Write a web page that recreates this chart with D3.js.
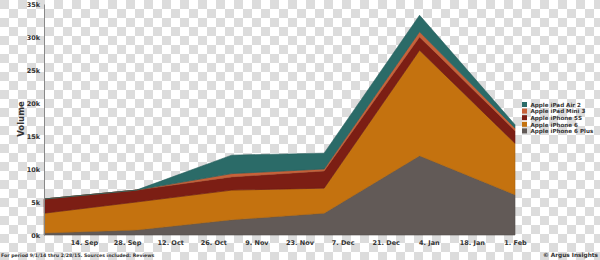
<!DOCTYPE html>
<html><head><meta charset="utf-8">
<script src="https://cdn.jsdelivr.net/npm/d3@7"></script>
<style>body{margin:0;background:#fff}svg{display:block}text{font-family:"DejaVu Sans",sans-serif;font-weight:bold;fill:#333}</style>
</head><body><svg id="c" width="600" height="260"></svg>
<script>
const dates = ["2014-09-01","2014-10-01","2014-11-01","2014-12-01","2015-01-01","2015-02-01"];
const seriesNames = ["Apple iPhone 6 Plus","Apple iPhone 6","Apple iPhone 5S","Apple iPad Mini 3","Apple iPad Air 2"];
const iphone6Plus = [300, 750, 2300, 3300, 12000, 6100];
const iphone6 = [3000, 4250, 4500, 3800, 16000, 7800];
const iphone5S = [2150, 1800, 2000, 2600, 2000, 1900];
const ipadMini3 = [0, 0, 500, 300, 800, 400];
const ipadAir2 = [0, 0, 2800, 2400, 2500, 500];
const colors = ["#625a57","#c4720f","#7c1e14","#c8623a","#2b6b68"];
const yTicks = [0,5000,10000,15000,20000,25000,30000,35000];
const xTickDates = ["2014-09-14","2014-09-28","2014-10-12","2014-10-26","2014-11-09","2014-11-23","2014-12-07","2014-12-21","2015-01-04","2015-01-18","2015-02-01"];

const parse = d3.utcParse("%Y-%m-%d");
const svg = d3.select("#c");
const defs = svg.append("defs");
const pat = defs.append("pattern").attr("id","chk").attr("width",18).attr("height",18).attr("patternUnits","userSpaceOnUse");
pat.append("rect").attr("width",18).attr("height",18).attr("fill","#ffffff");
pat.append("rect").attr("width",9).attr("height",9).attr("fill","#dcdcdc");
pat.append("rect").attr("x",9).attr("y",9).attr("width",9).attr("height",9).attr("fill","#dcdcdc");
svg.append("rect").attr("width",600).attr("height",260).attr("fill","url(#chk)");

const all = [iphone6Plus, iphone6, iphone5S, ipadMini3, ipadAir2];
const rows = dates.map((d,i)=>{const r={date:parse(d)}; seriesNames.forEach((n,k)=>r[n]=all[k][i]); return r;});
const stack = d3.stack().keys(seriesNames)(rows);

const x = d3.scaleUtc().domain([parse("2014-09-01"), parse("2015-02-01")]).range([44,515]);
const y = d3.scaleLinear().domain([0,35000]).range([235,4]);

const area = d3.area().x(d=>x(d.data.date)).y0(d=>y(d[0])).y1(d=>y(d[1]));
svg.append("g").selectAll("path").data(stack).join("path")
  .attr("d",area).attr("fill",(d,i)=>colors[i])
  .attr("stroke",(d,i)=>d3.color(colors[i]).darker(0.4)).attr("stroke-width",0.6);

// y axis
const ya = svg.append("g").attr("transform","translate(44,0)")
  .call(d3.axisLeft(y).tickValues(yTicks).tickSize(0).tickPadding(4).tickFormat(d=>(d/1000)+"k"));
ya.select(".domain").attr("stroke","#888").attr("stroke-width",1);
ya.selectAll("text").attr("font-size",6.5).attr("fill","#555").style("font-family","DejaVu Sans").style("font-weight","bold");

// x axis
const xa = svg.append("g").attr("transform","translate(0,237)")
  .call(d3.axisBottom(x).tickValues(xTickDates.map(parse)).tickSize(0).tickPadding(3).tickFormat(d3.utcFormat("%-d. %b")));
xa.select(".domain").remove();
xa.selectAll("text").attr("font-size",6.5).attr("fill","#444").style("font-family","DejaVu Sans").style("font-weight","bold");

svg.append("text").attr("transform","translate(24,119) rotate(-90)").attr("text-anchor","middle")
  .attr("font-size",8.5).attr("fill","#333").text("Volume");

// legend
const leg = svg.append("g").attr("transform","translate(522,102)");
const legOrder = seriesNames.map((n,i)=>i).reverse();
legOrder.forEach((k,j)=>{
  const g = leg.append("g").attr("transform",`translate(0,${j*6.6})`);
  g.append("rect").attr("width",5).attr("height",5).attr("fill",colors[k]);
  g.append("text").attr("x",8.5).attr("y",4.8).attr("font-size",5.6).attr("fill","#333").text(seriesNames[k]);
});

svg.append("text").attr("x",1).attr("y",257).attr("font-size",4.7).attr("fill","#333")
  .text("For period 9/1/14 thru 2/28/15. Sources included: Reviews");
svg.append("text").attr("x",598).attr("y",257).attr("text-anchor","end").attr("font-size",5.8).attr("fill","#333")
  .text("© Argus Insights");
</script></body></html>
